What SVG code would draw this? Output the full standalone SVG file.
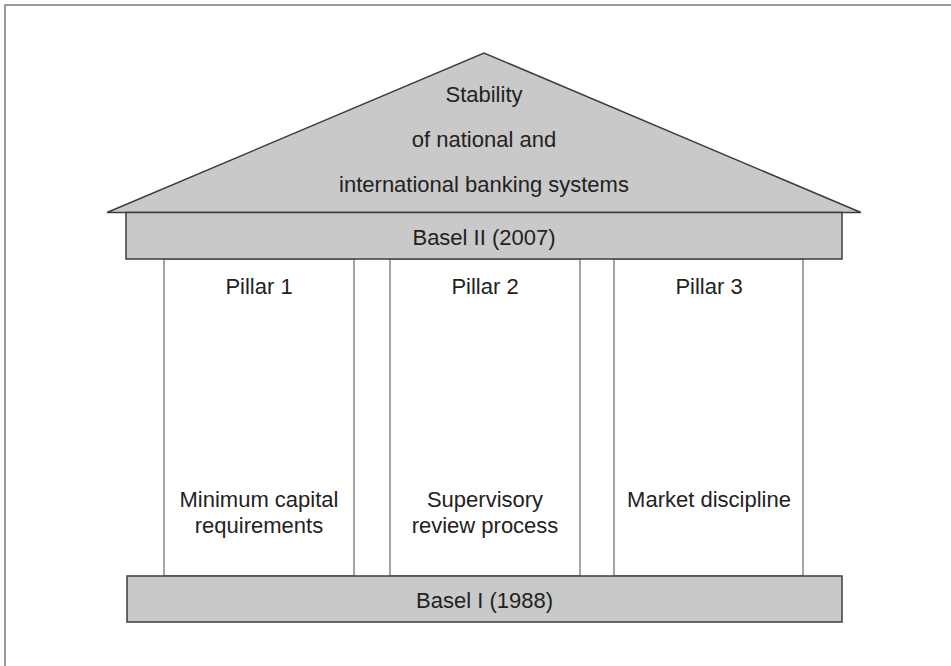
<svg xmlns="http://www.w3.org/2000/svg" width="951" height="666" viewBox="0 0 951 666">
  <style>
    .stone { fill: #c9c9c9; stroke: #3c3c3c; stroke-width: 1.5; }
    .pillar { fill: #ffffff; stroke: #6a6a6a; stroke-width: 1.2; }
    .label { font-family: "Liberation Sans", Arial, sans-serif; font-size: 22px; fill: #222222; text-anchor: middle; }
  </style>
  <rect width="951" height="666" fill="#ffffff"/>
  <!-- outer frame (runs off the right and bottom edges) -->
  <rect x="5" y="5" width="960" height="680" fill="none" stroke="#7a7a7a" stroke-width="1.5"/>

  <!-- pillars -->
  <g id="pillar1">
    <rect class="pillar" x="164" y="259" width="190" height="317"/>
    <text class="label" x="259" y="294">Pillar 1</text>
    <text class="label" x="259" y="507">Minimum capital</text>
    <text class="label" x="259" y="533">requirements</text>
  </g>
  <g id="pillar2">
    <rect class="pillar" x="390" y="259" width="190" height="317"/>
    <text class="label" x="485" y="294">Pillar 2</text>
    <text class="label" x="485" y="507">Supervisory</text>
    <text class="label" x="485" y="533">review process</text>
  </g>
  <g id="pillar3">
    <rect class="pillar" x="614" y="259" width="189" height="317"/>
    <text class="label" x="709" y="294">Pillar 3</text>
    <text class="label" x="709" y="507">Market discipline</text>
  </g>

  <!-- roof -->
  <g id="roof">
    <polygon class="stone" points="107,212.5 484,53 861,212.5"/>
    <text class="label" x="484" y="102">Stability</text>
    <text class="label" x="484" y="147">of national and</text>
    <text class="label" x="484" y="192">international banking systems</text>
  </g>

  <!-- entablature -->
  <g id="basel2">
    <rect class="stone" x="126" y="212.5" width="716" height="46.5"/>
    <text class="label" x="484" y="245">Basel II (2007)</text>
  </g>

  <!-- foundation -->
  <g id="basel1">
    <rect class="stone" x="127" y="576" width="715" height="46"/>
    <text class="label" x="484.5" y="608">Basel I (1988)</text>
  </g>

  <g id="connectors"/>
</svg>
